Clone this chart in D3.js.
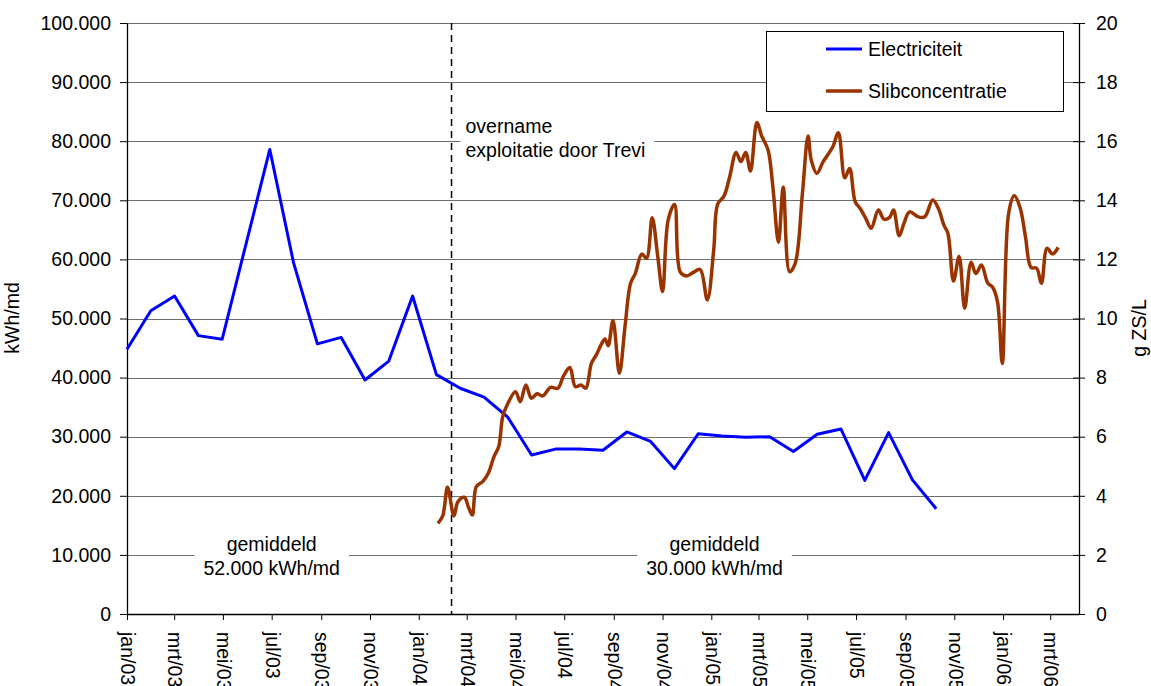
<!DOCTYPE html>
<html>
<head>
<meta charset="utf-8">
<script src="https://cdn.jsdelivr.net/npm/d3@7"></script>
<style>
  body { margin: 0; background: #fff; }
  svg text { font-family: "Liberation Sans", Arial, sans-serif; fill: #000; }
</style>
</head>
<body>
<div id="chart"></div>
<script>
// Dutch month abbreviations for the tick labels
const monthNames = ["jan", "feb", "mrt", "apr", "mei", "jun", "jul", "aug", "sep", "okt", "nov", "dec"];

// Electriciteit (kWh/md), one value per month from jan/03
const elecValues = [44800, 51300, 53800, 47100, 46500, 62600, 78600, 59400, 45700, 46800, 39600, 42800,
  53800, 40500, 38200, 36700, 33300, 26900, 27900, 27900, 27700, 30800, 29200, 24600,
  30500, 30100, 29900, 30000, 27500, 30400, 31300, 22600, 30700, 22700, 17800];

// Slibconcentratie (g ZS/L), roughly weekly samples
const slibDates = ["2004-01-25", "2004-01-31", "2004-02-06", "2004-02-14", "2004-02-19", "2004-02-27", "2004-03-03",
  "2004-03-08", "2004-03-13", "2004-03-21", "2004-03-28", "2004-04-04", "2004-04-10", "2004-04-15", "2004-04-20",
  "2004-05-01", "2004-05-07", "2004-05-14", "2004-05-21", "2004-05-28", "2004-06-04", "2004-06-14", "2004-06-23",
  "2004-06-30", "2004-07-08", "2004-07-15", "2004-07-22", "2004-07-28", "2004-08-04", "2004-08-10", "2004-08-17",
  "2004-08-21", "2004-08-25", "2004-08-31", "2004-09-08", "2004-09-15", "2004-09-22", "2004-09-28", "2004-10-06",
  "2004-10-12", "2004-10-19", "2004-10-26", "2004-11-01", "2004-11-08", "2004-11-16", "2004-11-23", "2004-12-01",
  "2004-12-09", "2004-12-18", "2004-12-27", "2005-01-04", "2005-01-09", "2005-01-17", "2005-01-24", "2005-02-01",
  "2005-02-07", "2005-02-13", "2005-02-19", "2005-02-27", "2005-03-05", "2005-03-13", "2005-03-19", "2005-03-26",
  "2005-04-01", "2005-04-09", "2005-04-16", "2005-04-25", "2005-05-02", "2005-05-06", "2005-05-13", "2005-05-21",
  "2005-05-27", "2005-06-02", "2005-06-09", "2005-06-17", "2005-06-23", "2005-06-30", "2005-07-06", "2005-07-13",
  "2005-07-20", "2005-07-29", "2005-08-05", "2005-08-12", "2005-08-17", "2005-08-24", "2005-08-30", "2005-09-06",
  "2005-09-17", "2005-09-25", "2005-10-05", "2005-10-12", "2005-10-19", "2005-10-24", "2005-10-31", "2005-11-07",
  "2005-11-14", "2005-11-22", "2005-11-28", "2005-12-05", "2005-12-13", "2005-12-19", "2005-12-25", "2005-12-31",
  "2006-01-08", "2006-01-15", "2006-01-22", "2006-01-29", "2006-02-05", "2006-02-12", "2006-02-18", "2006-02-25",
  "2006-03-04", "2006-03-11"];
const slibValues = [3.07, 3.32, 4.29, 3.32, 3.80, 3.95, 3.63,
  3.35, 4.31, 4.48, 4.76, 5.32, 5.66, 6.68, 7.04,
  7.52, 7.18, 7.75, 7.30, 7.45, 7.38, 7.67, 7.64,
  8.05, 8.34, 7.69, 7.75, 7.64, 8.48, 8.76, 9.16,
  9.31, 9.08, 9.93, 8.15, 9.72, 11.19, 11.53, 12.18,
  12.04, 13.41, 12.10, 10.91, 13.33, 13.86, 11.58, 11.44,
  11.55, 11.66, 10.63, 12.32, 13.87, 14.15, 14.80, 15.62,
  15.31, 15.62, 14.99, 16.63, 16.18, 15.70, 14.46, 12.58,
  14.44, 11.58, 11.87, 14.24, 16.18, 15.36, 14.91, 15.31,
  15.55, 15.81, 16.29, 14.76, 15.08, 13.95, 13.73, 13.40,
  13.05, 13.67, 13.36, 13.42, 13.67, 12.80, 13.22, 13.61,
  13.44, 13.44, 14.01, 13.73, 13.16, 12.88, 11.27, 12.10,
  10.35, 11.90, 11.52, 11.81, 11.19, 11.06, 10.57, 8.48,
  13.56, 14.15, 13.78, 12.77, 11.73, 11.70, 11.19, 12.38,
  12.18, 12.41];

const leftTicks = d3.range(0, 100001, 10000);
const rightTicks = d3.range(0, 21, 2);
const takeoverDate = "2004-02-11";   // overname exploitatie door Trevi
const averages = [
  { date: "2003-07-01", lines: ["gemiddeld", "52.000 kWh/md"] },
  { date: "2005-01-05", lines: ["gemiddeld", "30.000 kWh/md"] }
];

const parse = d3.timeParse("%Y-%m-%d");
const fmtLeft = d3.formatLocale({ decimal: ",", thousands: ".", grouping: [3], currency: ["", ""] }).format(",");

const W = 1151, H = 686;
const margin = { top: 23, right: 72, bottom: 72, left: 127 };
const width = W - margin.left - margin.right;
const height = H - margin.top - margin.bottom;

const svg = d3.select("#chart").append("svg")
  .attr("width", W).attr("height", H);
const g = svg.append("g").attr("transform", `translate(${margin.left},${margin.top})`);

// scales: visible time axis for the sludge series, point scale (41 months) for electricity
const x = d3.scaleTime().domain([parse("2003-01-01"), parse("2006-04-06")]).range([0, width]);
const elecMonths = d3.timeMonth.range(parse("2003-01-01"), parse("2006-06-01"));
const xElec = d3.scalePoint().domain(elecMonths.map(d => +d)).range([0, width]);
const yLeft = d3.scaleLinear().domain([0, 100000]).range([height, 0]);
const yRight = d3.scaleLinear().domain([0, 20]).range([height, 0]);

// gridlines
g.append("g").selectAll("line")
  .data(leftTicks.filter(d => d > 0))
  .join("line")
  .attr("x1", 0).attr("x2", width)
  .attr("y1", d => Math.round(yLeft(d)) + 0.5).attr("y2", d => Math.round(yLeft(d)) + 0.5)
  .attr("stroke", "#6e6e6e").attr("stroke-width", 1);

// averages annotations (white box hides the gridline)
averages.forEach(a => {
  const cx = x(parse(a.date));
  const t = g.append("text").attr("text-anchor", "middle").style("font-size", "19.5px");
  a.lines.forEach((l, i) => t.append("tspan").attr("x", cx).attr("y", 528 + i * 24).text(l));
  const bb = t.node().getBBox();
  g.insert("rect", "text").attr("x", bb.x - 9).attr("y", bb.y - 2).attr("width", bb.width + 18).attr("height", bb.height + 4).attr("fill", "#fff");
});

// takeover annotation
const tx = x(parse(takeoverDate));
const ann = g.append("text").style("font-size", "19.5px");
["overname", "exploitatie door Trevi"].forEach((l, i) =>
  ann.append("tspan").attr("x", tx + 14).attr("y", 110 + i * 24).text(l));
const abb = ann.node().getBBox();
g.insert("rect", "text").attr("x", abb.x - 5).attr("y", abb.y - 2).attr("width", abb.width + 14).attr("height", abb.height + 4).attr("fill", "#fff");

// dashed takeover line
g.append("line")
  .attr("x1", tx).attr("x2", tx).attr("y1", 0).attr("y2", height)
  .attr("stroke", "#000").attr("stroke-width", 1.5).attr("stroke-dasharray", "7,5");

// axes
const xAxis = g.append("g").attr("transform", `translate(0,${height})`)
  .call(d3.axisBottom(x).ticks(d3.timeMonth.every(2)).tickSize(6).tickSizeOuter(0)
    .tickFormat(d => monthNames[d.getMonth()] + "/" + d3.timeFormat("%y")(d)));
xAxis.selectAll("text")
  .attr("transform", "rotate(90)").attr("x", 18).attr("y", 0).attr("dy", "0.32em")
  .style("text-anchor", "start").style("font-size", "19.5px");

const yAxisL = g.append("g")
  .call(d3.axisLeft(yLeft).tickValues(leftTicks).tickSize(7).tickPadding(9).tickSizeOuter(0).tickFormat(fmtLeft));
yAxisL.selectAll("text").style("font-size", "19.5px");

const yAxisR = g.append("g").attr("transform", `translate(${width},0)`)
  .call(d3.axisRight(yRight).tickValues(rightTicks).tickSize(6).tickPadding(11).tickSizeOuter(0));
yAxisR.selectAll(".tick line").attr("x1", -6);
yAxisR.selectAll("text").style("font-size", "19.5px");

g.selectAll(".domain").attr("stroke", "#000").attr("stroke-width", 1.3);
g.selectAll(".tick line").attr("stroke", "#000");

// axis titles
svg.append("text").attr("transform", "translate(19,318) rotate(-90)")
  .attr("text-anchor", "middle").style("font-size", "19.5px").text("kWh/md");
svg.append("text").attr("transform", "translate(1146,328) rotate(-90)")
  .attr("text-anchor", "middle").style("font-size", "19.5px").text("g ZS/L");

// electricity line
const elecLine = d3.line()
  .x((d, i) => xElec(+elecMonths[i]))
  .y(d => yLeft(d));
g.append("path").datum(elecValues)
  .attr("d", elecLine)
  .attr("fill", "none").attr("stroke", "#0000ff").attr("stroke-width", 3)
  .attr("stroke-linejoin", "round");

// sludge concentration line (smoothed)
const slib = slibDates.map((d, i) => ({ date: parse(d), value: slibValues[i] }));
const slibLine = d3.line().curve(d3.curveCatmullRom.alpha(0.5))
  .x(d => x(d.date)).y(d => yRight(d.value));
g.append("path").datum(slib)
  .attr("d", slibLine)
  .attr("fill", "none").attr("stroke", "#993300").attr("stroke-width", 3.5)
  .attr("stroke-linejoin", "round");

// legend
const legend = svg.append("g").attr("transform", "translate(766,31)");
legend.append("rect").attr("x", 0.5).attr("y", 0.5).attr("width", 297).attr("height", 80)
  .attr("fill", "#fff").attr("stroke", "#000").attr("stroke-width", 1);
const legendItems = [
  { name: "Electriciteit", color: "#0000ff", w: 3 },
  { name: "Slibconcentratie", color: "#993300", w: 3.5 }
];
legendItems.forEach((it, i) => {
  const ly = 18 + i * 42;
  legend.append("line").attr("x1", 60).attr("x2", 96).attr("y1", ly).attr("y2", ly)
    .attr("stroke", it.color).attr("stroke-width", it.w);
  legend.append("text").attr("x", 102).attr("y", ly).attr("dy", "0.35em")
    .style("font-size", "19.5px").text(it.name);
});
</script>
</body>
</html>
